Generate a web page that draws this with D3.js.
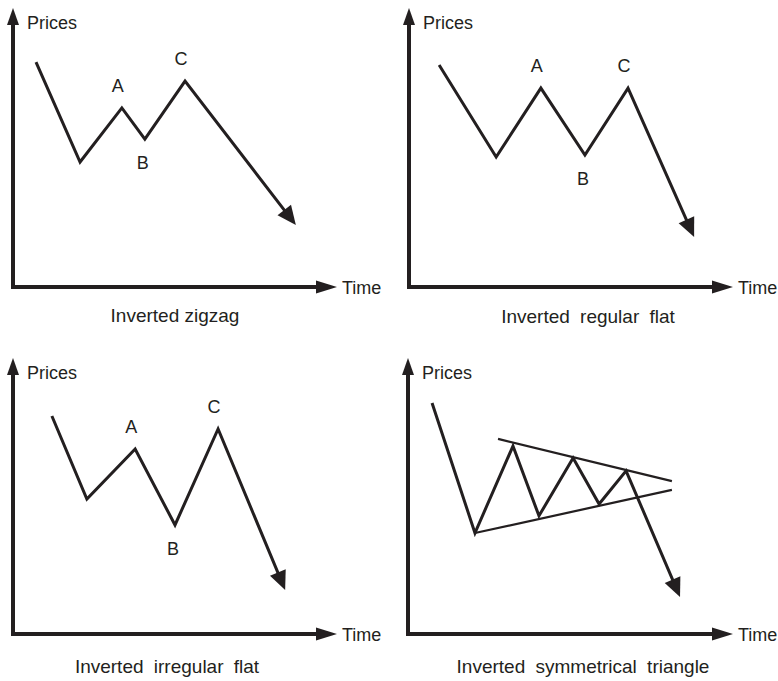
<!DOCTYPE html>
<html>
<head>
<meta charset="utf-8">
<script src="https://cdn.jsdelivr.net/npm/d3@7"></script>
<style>
  html, body { margin: 0; padding: 0; background: #fff; }
  svg { display: block; }
  text { font-family: "Liberation Sans", Arial, Helvetica, sans-serif; fill: #231f20; }
</style>
</head>
<body>
<svg id="chart" width="778" height="681"></svg>
<script>
// ---- Data (time %, price %) ----
const titles = ["Inverted zigzag", "Inverted regular flat", "Inverted irregular flat", "Inverted symmetrical triangle"];
const axisLabels = ["Prices", "Time"];

const zigzagWave = [[7.1, 80.6], [20.7, 44.8], [33.6, 64.2], [40.7, 53.0], [53.1, 73.8], [87.3, 22.2]];
const regularFlatWave = [[9.3, 79.6], [26.9, 46.6], [40.7, 71.3], [54.3, 47.3], [67.6, 71.3], [88.0, 17.9]];
const irregularFlatWave = [[12.0, 79.0], [22.8, 48.9], [37.7, 67.0], [50.0, 39.5], [63.3, 74.3], [84.0, 15.9]];
const triangleWave = [[7.4, 83.7], [20.6, 36.6], [32.3, 68.1], [40.3, 42.8], [50.8, 63.8], [58.8, 47.1], [67.1, 59.1], [83.7, 13.4]];
const triangleUpper = [[27.7, 70.7], [81.2, 55.4]];
const triangleLower = [[20.6, 36.6], [81.2, 52.2]];

// wave labels: [point index, text, side]
const abcLabels = [[2, "A", "above"], [3, "B", "below"], [4, "C", "above"]];

const waves = [zigzagWave, regularFlatWave, irregularFlatWave, triangleWave];

// ---- Layout ----
const panels = [
  { x0: 13,  x1: 337, y0: 287, y1: 8,   capX: 175, capY: 322, ws: 0 },
  { x0: 409, x1: 733, y0: 287, y1: 8,   capX: 588, capY: 323, ws: 5 },
  { x0: 13,  x1: 337, y0: 634, y1: 358, capX: 167, capY: 673, ws: 5 },
  { x0: 408, x1: 733, y0: 634, y1: 358, capX: 583, capY: 673, ws: 5 }
];

const ink = "#231f20";
const svg = d3.select("#chart");

function arrowHead(g, from, to, len, half) {
  const dx = to[0] - from[0], dy = to[1] - from[1];
  const L = Math.hypot(dx, dy), ux = dx / L, uy = dy / L;
  const bx = to[0] - ux * len, by = to[1] - uy * len;
  g.append("path")
    .attr("d", `M${to[0]},${to[1]}L${bx - uy * half},${by + ux * half}L${bx + uy * half},${by - ux * half}Z`)
    .attr("fill", ink);
  return [bx + ux * 2, by + uy * 2];
}

panels.forEach((p, i) => {
  const g = svg.append("g");
  const x = d3.scaleLinear().domain([0, 100]).range([p.x0, p.x1]);
  const y = d3.scaleLinear().domain([0, 100]).range([p.y0, p.y1]);

  // axes
  const yBase = arrowHead(g, [x(0), y(0)], [x(0), y(100)], 17, 6);
  const xBase = arrowHead(g, [x(0), y(0)], [x(100), y(0)], 21, 6.5);
  g.append("line").attr("x1", x(0)).attr("y1", y(0) + 2).attr("x2", yBase[0]).attr("y2", yBase[1])
    .attr("stroke", ink).attr("stroke-width", 4);
  g.append("line").attr("x1", x(0) - 2).attr("y1", y(0)).attr("x2", xBase[0]).attr("y2", xBase[1])
    .attr("stroke", ink).attr("stroke-width", 4);

  g.append("text").attr("x", x(0) + 14).attr("y", y(100) + 21)
    .attr("font-size", 18).text(axisLabels[0]);
  g.append("text").attr("x", x(100) + 5).attr("y", y(0) + 7)
    .attr("font-size", 18).text(axisLabels[1]);

  // caption
  g.append("text").attr("x", p.capX).attr("y", p.capY).attr("text-anchor", "middle")
    .attr("font-size", 19).style("word-spacing", p.ws + "px").text(titles[i]);

  // trend lines (triangle)
  if (i === 3) {
    [triangleUpper, triangleLower].forEach(tl => {
      g.append("path").attr("d", d3.line().x(d => x(d[0])).y(d => y(d[1]))(tl))
        .attr("fill", "none").attr("stroke", ink).attr("stroke-width", 2.2);
    });
  }

  // wave
  const data = waves[i];
  const pts = data.map(d => [x(d[0]), y(d[1])]);
  const n = pts.length;
  const base = arrowHead(g, pts[n - 2], pts[n - 1], 19, 8.5);
  const linePts = pts.slice(0, n - 1).concat([base]);
  g.append("path").attr("d", d3.line()(linePts))
    .attr("fill", "none").attr("stroke", ink).attr("stroke-width", 3)
    .attr("stroke-linejoin", "miter").attr("stroke-miterlimit", 10);

  if (i < 3) {
    abcLabels.forEach(([idx, t, side]) => {
      const [px, py] = pts[idx];
      g.append("text")
        .attr("x", side === "above" ? px - 4 : px - 2)
        .attr("y", side === "above" ? py - 16 : py + 30)
        .attr("text-anchor", "middle").attr("font-size", 18).text(t);
    });
  }
});
</script>
</body>
</html>
